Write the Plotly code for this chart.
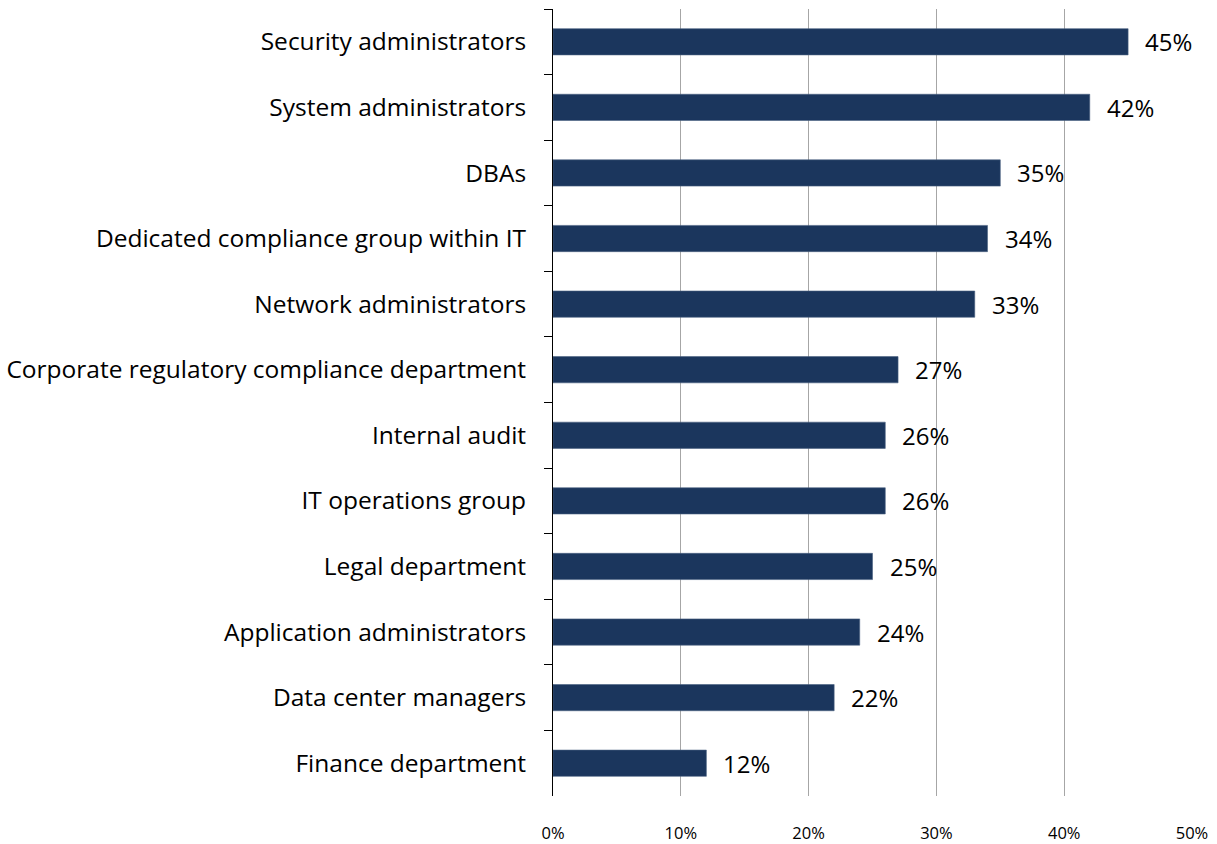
import plotly.graph_objects as go

categories = [
    "Security administrators",
    "System administrators",
    "DBAs",
    "Dedicated compliance group within IT",
    "Network administrators",
    "Corporate regulatory compliance department",
    "Internal audit",
    "IT operations group",
    "Legal department",
    "Application administrators",
    "Data center managers",
    "Finance department",
]
shares = [45, 42, 35, 34, 33, 27, 26, 26, 25, 24, 22, 12]
tick_values = [0, 10, 20, 30, 40, 50]
tick_labels = ["0%", "10%", "20%", "30%", "40%", "50%"]

FONT = "Open Sans, Noto Sans, sans-serif"
BAR = "#1b365d"

fig = go.Figure()
fig.add_trace(go.Bar(
    x=shares,
    y=categories,
    orientation="h",
    width=0.4,
    marker=dict(color=BAR, line=dict(color="#4a6282", width=0.6)),
    hoverinfo="x+y",
))

# value labels placed just right of each bar
for cat, v in zip(categories, shares):
    fig.add_annotation(
        x=v, y=cat, text=f"{v}%", showarrow=False,
        xanchor="left", xshift=15,
        font=dict(family=FONT, size=24, color="#000000"),
    )

fig.update_layout(
    width=1217, height=844,
    margin=dict(l=553, r=25, t=9, b=48),
    paper_bgcolor="white", plot_bgcolor="white",
    showlegend=False,
    bargap=0.6,
    font=dict(family=FONT, color="#000000"),
)
fig.update_xaxes(
    range=[0, 50],
    tickvals=tick_values, ticktext=tick_labels,
    showgrid=True, gridcolor="#a6a6a6", gridwidth=1,
    zeroline=False, showline=False, ticks="",
    tickfont=dict(family=FONT, size=16.5),
    ticklabelstandoff=25,
    automargin=False,
)
fig.update_yaxes(
    categoryorder="array", categoryarray=categories,
    range=[len(categories) - 0.5, -0.5],
    showline=True, linecolor="#000000", linewidth=1,
    ticks="outside", tickson="boundaries", ticklen=8, tickcolor="#000000",
    tickfont=dict(family=FONT, size=24.5),
    ticklabelstandoff=21,
    showgrid=False,
    automargin=False,
)

fig.write_html("out.html")
